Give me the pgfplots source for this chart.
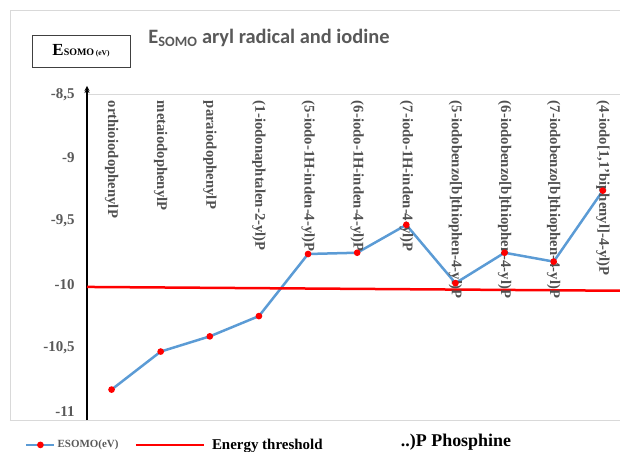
\documentclass[border=0pt]{standalone}
\usepackage{pgfplots}
\pgfplotsset{compat=1.18}
\usepackage{fontspec}
\setmainfont{Liberation Serif}
\newfontfamily\calibri{Carlito}
\definecolor{sblue}{HTML}{5B9BD5}
\definecolor{tgray}{HTML}{595959}
\definecolor{lgray}{HTML}{505050}
\definecolor{framegray}{HTML}{D9D9D9}
\pgfplotsset{
  esomoleg/.style={legend image code/.code={\draw[mark repeat=2,mark phase=2,##1] plot coordinates {(0bp,0bp) (14bp,0bp) (28bp,0bp)};}},
  threshleg/.style={legend image code/.code={\draw[##1] (0bp,0bp) -- (68bp,0bp);}},
}
\begin{document}
\begin{tikzpicture}
\useasboundingbox (-87bp,-32bp) rectangle (533bp,420bp);
\draw[framegray, line width=0.8bp] (-77bp,0bp) -- (-77bp,410bp) -- (540bp,410bp);
\draw[framegray, line width=0.8bp] (-77bp,0bp) -- (540bp,0bp);
\begin{axis}[
  at={(0,0)}, anchor=south west,
  scale only axis, width=533bp, height=332bp,
  xmin=0.5, xmax=11.35, ymin=-11.07, ymax=-8.45,
  axis x line=none, axis y line=left,
  y axis line style={black, line width=1.2bp},
  ytick={-11,-10.5,-10,-9.5,-9,-8.5},
  yticklabels={{-11},{-10,5},{-10},{-9,5},{-9},{-8,5}},
  major tick length=0pt,
  yticklabel style={font=\bfseries\fontsize{15}{15}\selectfont, text=tgray, xshift=-9bp},
  clip=false,
  legend style={at={(axis description cs:-0.122,-0.075)}, anchor=west, draw=none, fill=none,
    legend columns=2, /tikz/every even column/.append style={column sep=14bp}},
]
\draw[framegray, line width=0.8bp] (axis cs:0.5,-8.5) -- (axis cs:11.35,-8.5);
\addplot[sblue, line width=2.5bp, mark=*, mark size=2bp, mark options={fill=red, draw=red}, esomoleg]
  coordinates {(1,-10.83) (2,-10.53) (3,-10.41) (4,-10.25) (5,-9.76) (6,-9.75) (7,-9.53) (8,-9.99) (9,-9.75) (10,-9.82) (11,-9.26)};
\addlegendentry{\textcolor{tgray}{\bfseries\fontsize{11}{11}\selectfont ESOMO(eV)}}
\addplot[red, line width=2.5bp, threshleg]
  coordinates {(0.5,-10.02) (11.35,-10.05)};
\addlegendentry{\hspace{5bp}\bfseries\fontsize{15}{15}\selectfont Energy threshold}
\tikzset{cat/.style={rotate=-90, anchor=west, font=\bfseries\fontsize{14.8}{14.8}\selectfont, text=lgray, inner sep=0pt}}
\node[cat] at (axis cs:1,-8.55) {orthioiodophenylP};
\node[cat] at (axis cs:2,-8.55) {metaiodophenylP};
\node[cat] at (axis cs:3,-8.55) {paraiodophenylP};
\node[cat] at (axis cs:4,-8.55) {(1-iodonaphtalen-2-yl)P};
\node[cat] at (axis cs:5,-8.55) {(5-iodo-1H-inden-4-yl)P};
\node[cat] at (axis cs:6,-8.55) {(6-iodo-1H-inden-4-yl)P};
\node[cat] at (axis cs:7,-8.55) {(7-iodo-1H-inden-4-yl)P};
\node[cat] at (axis cs:8,-8.55) {(5-iodobenzo[b]thiophen-4-yl)P};
\node[cat] at (axis cs:9,-8.55) {(6-iodobenzo[b]thiophen-4-yl)P};
\node[cat] at (axis cs:10,-8.55) {(7-iodobenzo[b]thiophen-4-yl)P};
\node[cat] at (axis cs:11,-8.55) {(4-iodo[1,1'biphenyl]-4-yl)P};
\end{axis}
\draw[black, line width=1.2bp, -stealth] (0bp,320bp) -- (0bp,334bp);
\node[font=\calibri\bfseries\fontsize{20.5}{20.5}\selectfont, text=tgray] at (182bp,382bp) {E\textsubscript{SOMO} aryl radical and iodine};
\node[draw=black!75, line width=0.8bp, minimum width=98bp, minimum height=32bp, inner sep=2bp] at (-6bp,369bp)
  {\bfseries\fontsize{17}{17}\selectfont E\fontsize{10}{10}\selectfont SOMO\,\fontsize{7.5}{7.5}\selectfont(eV)};
\node[font=\bfseries\fontsize{18}{18}\selectfont] at (369bp,-22bp) {..)P Phosphine};
\end{tikzpicture}
\end{document}
